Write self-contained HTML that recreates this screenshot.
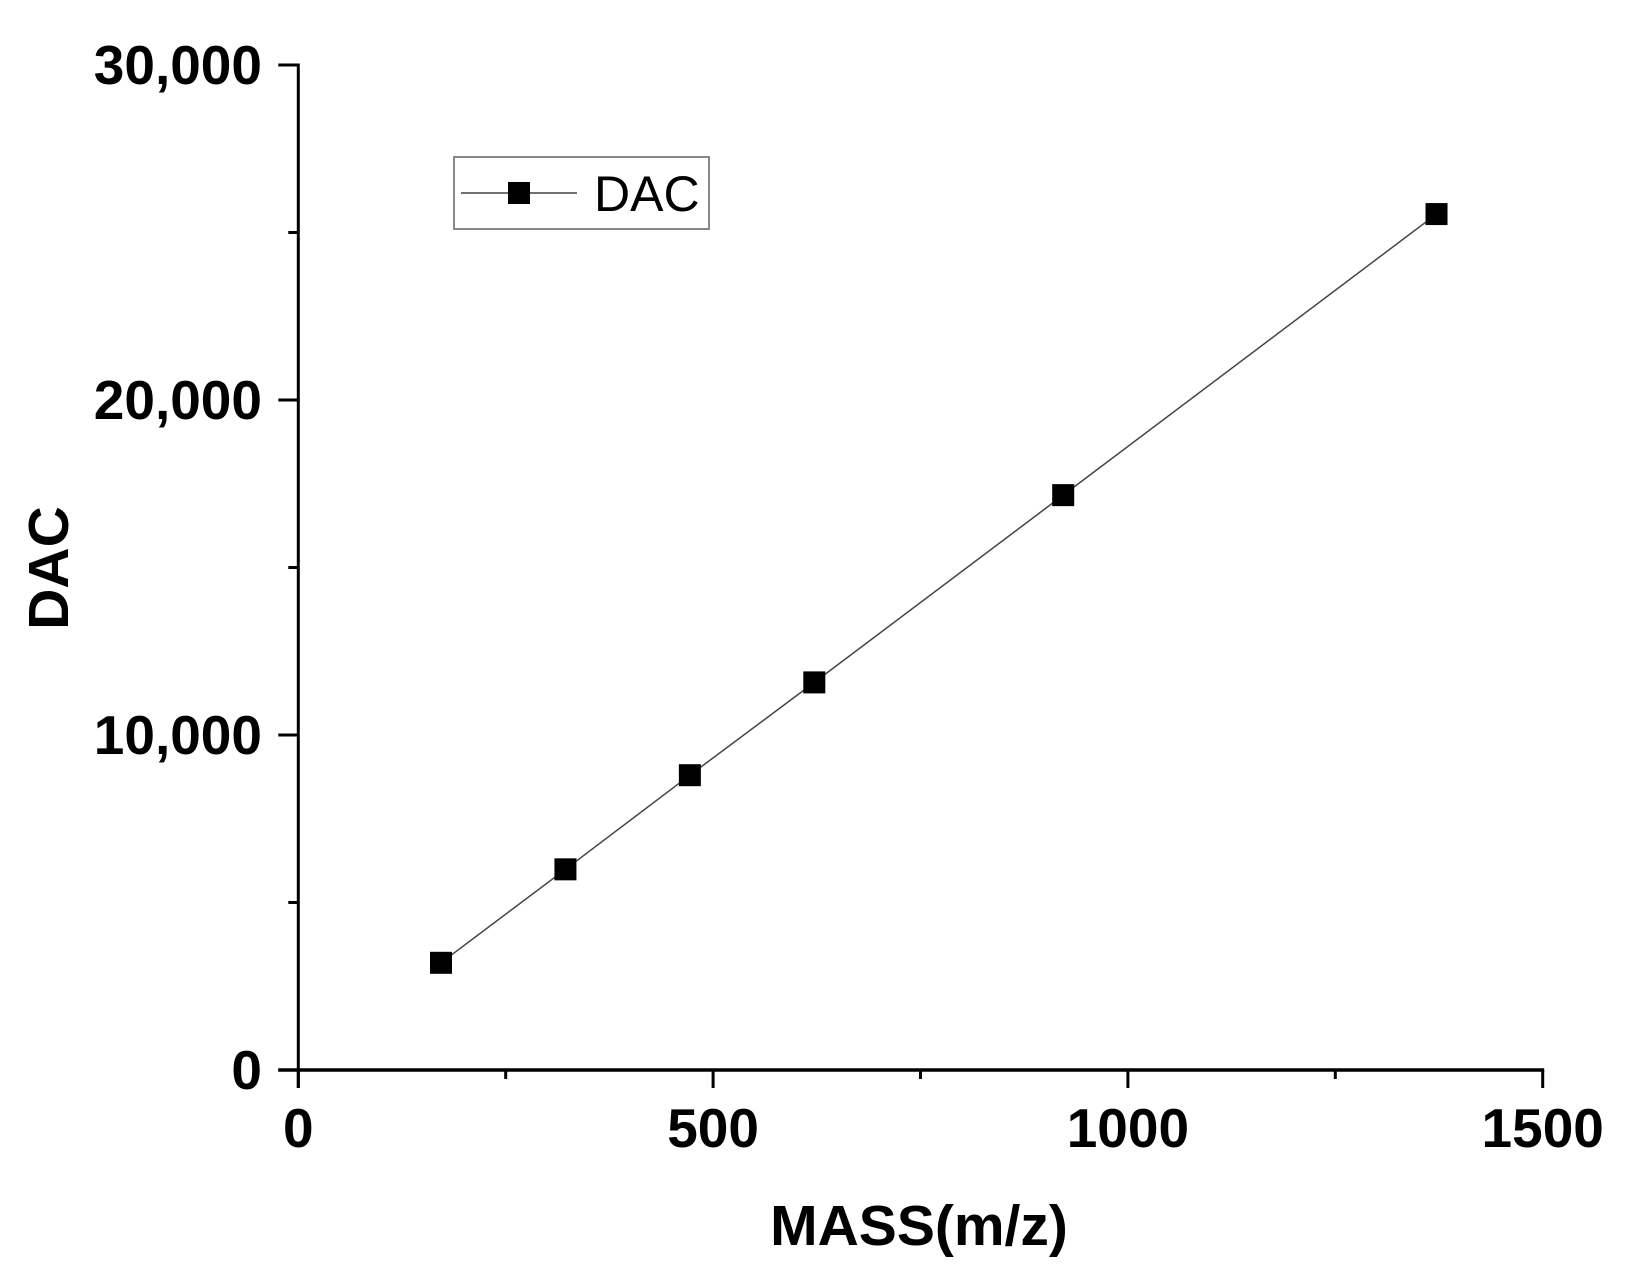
<!DOCTYPE html>
<html><head><meta charset="utf-8"><style>
html,body{margin:0;padding:0;background:#fff;}
svg{display:block;font-family:"Liberation Sans",Arial,sans-serif;}
</style></head><body>
<svg id="chart" width="1625" height="1266" viewBox="0 0 1625 1266" xmlns="http://www.w3.org/2000/svg"></svg>
<script>
const masses = [172, 322, 472, 622, 922, 1372];
const dacValues = [3200, 5990, 8800, 11570, 17160, 25550];
const xTickValues = [0, 500, 1000, 1500];
const xTickLabels = ["0", "500", "1000", "1500"];
const yTickValues = [0, 10000, 20000, 30000];
const yTickLabels = ["0", "10,000", "20,000", "30,000"];

const X0 = 298.3, X1 = 1542.7, Y0 = 1070, Y1 = 65;
const sx = v => X0 + (v - 0) / 1500 * (X1 - X0);
const sy = v => Y0 - (v - 0) / 30000 * (Y0 - Y1);
const svg = document.getElementById('chart');
const NS = 'http://www.w3.org/2000/svg';
function mk(tag, attrs, parent) {
  const e = document.createElementNS(NS, tag);
  for (const k in attrs) e.setAttribute(k, attrs[k]);
  (parent || svg).appendChild(e);
  return e;
}
let el;
el = mk('line', {x1: X0, y1: Y1 - 1.5, x2: X0, y2: Y0 + 18, stroke: '#000', 'stroke-width': 3});


el = mk('line', {x1: X0 - 20, y1: Y0, x2: X1 + 1.5, y2: Y0, stroke: '#000', 'stroke-width': 3.5});


for (let v = 0; v <= 30000; v += 5000) {
  const major = v % 10000 === 0;
  el = mk('line', {x1: X0 - (major ? 20 : 10), y1: sy(v), x2: X0, y2: sy(v), stroke: '#000', 'stroke-width': 3});
  
  
}
yTickValues.forEach((v, i) => {
  const t = mk('text', {x: 262, y: sy(v) + 19, 'text-anchor': 'end', 'font-size': 55, 'font-weight': 'bold'});
  t.textContent = yTickLabels[i];
  
  
});
for (let v = 0; v <= 1500; v += 250) {
  const major = v % 500 === 0;
  el = mk('line', {x1: sx(v), y1: Y0, x2: sx(v), y2: Y0 + (major ? 18 : 9), stroke: '#000', 'stroke-width': 3});
  
  
}
xTickValues.forEach((v, i) => {
  const t = mk('text', {x: sx(v), y: 1147, 'text-anchor': 'middle', 'font-size': 55, 'font-weight': 'bold'});
  t.textContent = xTickLabels[i];
  
  
});
el = mk('text', {x: 919, y: 1245, 'text-anchor': 'middle', 'font-size': 57, 'font-weight': 'bold'});
el.textContent = 'MASS(m/z)';


el = mk('text', {x: 0, y: 0, 'text-anchor': 'middle', 'font-size': 57, 'font-weight': 'bold', transform: 'translate(68,568) rotate(-90)'});
el.textContent = 'DAC';


el = mk('polyline', {points: masses.map((m, i) => sx(m) + ',' + sy(dacValues[i])).join(' '), fill: 'none', stroke: '#444', 'stroke-width': 1.5});


masses.forEach((m, i) => {
  const r = mk('rect', {x: sx(m) - 11, y: sy(dacValues[i]) - 11, width: 22, height: 22, fill: '#000'});
  
  
});
const lg = mk('g', {});


mk('rect', {x: 454, y: 157, width: 255, height: 72, fill: '#fff', stroke: '#888', 'stroke-width': 2}, lg);
mk('line', {x1: 461, y1: 193, x2: 577, y2: 193, stroke: '#444', 'stroke-width': 1.5}, lg);
mk('rect', {x: 508, y: 182, width: 22, height: 22, fill: '#000'}, lg);
el = mk('text', {x: 594, y: 211, 'font-size': 50}, lg);
el.textContent = 'DAC';


</script>
</body></html>
